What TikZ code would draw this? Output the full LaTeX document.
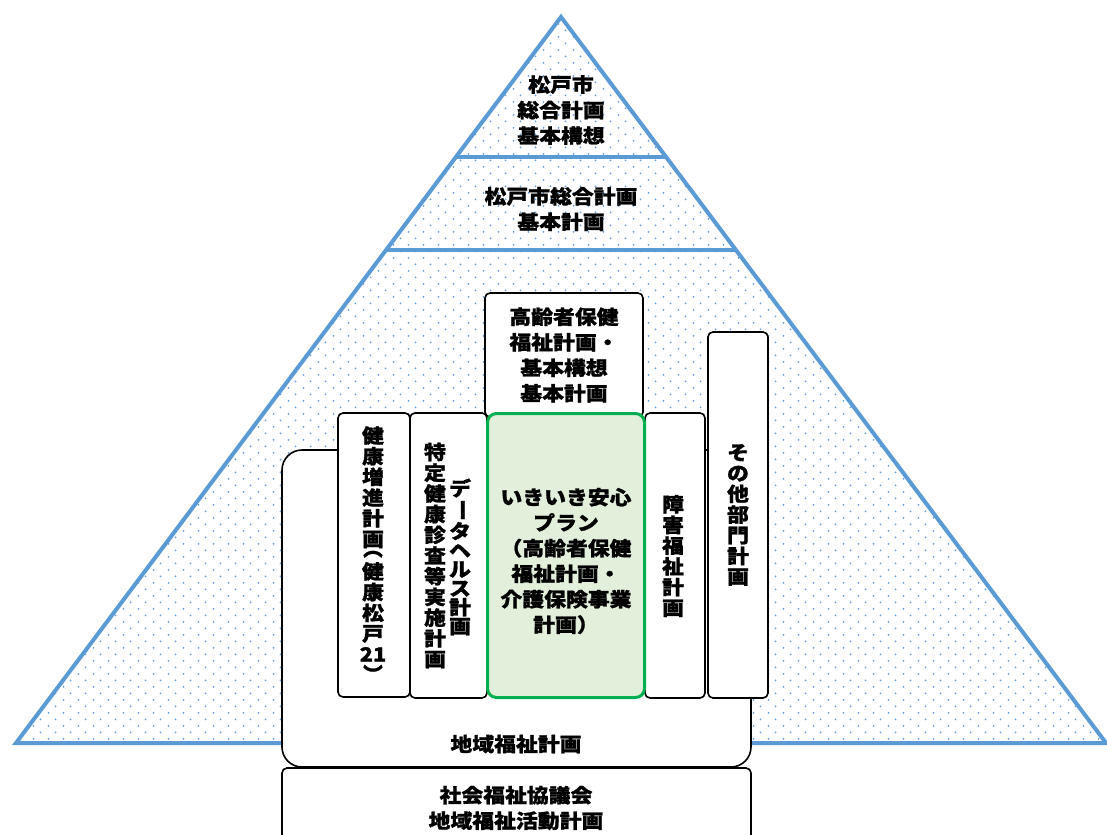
\documentclass[tikz,border=0pt]{standalone}
\usepackage{fontspec}
\newfontfamily\jpfont{Noto Sans CJK JP}[FakeStretch=1.12,BoldFeatures={FakeBold=1.2}]
\usepackage{graphicx}
\usepackage{tikz}
\usetikzlibrary{patterns.meta,calc}

\definecolor{lineblue}{RGB}{91,155,213}
\definecolor{dotblue}{RGB}{105,160,218}
\definecolor{plangreen}{RGB}{0,176,80}
\definecolor{planfill}{RGB}{226,239,218}

\tikzdeclarepattern{
  name=bluedots,
  type=uncolored,
  bounding box={(0bp,0bp) and (15bp,13.4bp)},
  tile size={(15bp,13.4bp)},
  code={
    \fill (3.75bp,3.35bp) circle (1.05bp);
    \fill (11.25bp,10.05bp) circle (1.05bp);
  }
}

\tikzset{
  plan/.style={draw,line width=1.6bp,fill=white,rounded corners=5bp,inner sep=0pt},
  htext/.style={align=center,font={\fontsize{19.5bp}{25.5bp}\jpfont\bfseries}},
  vtext/.style={align=center,inner sep=0pt,font={\fontsize{19.5bp}{20.7bp}\jpfont\bfseries}},
  vtight/.style={vtext,font={\fontsize{19.5bp}{19bp}\jpfont\bfseries}},
}

\begin{document}
\begin{tikzpicture}

\useasboundingbox (0bp,0bp) rectangle (1107bp,-835bp);
\clip (0bp,0bp) rectangle (1107bp,-835bp);

% pyramid
\coordinate (apex) at (561bp,-17bp);
\coordinate (left) at (16bp,-743bp);
\coordinate (right) at (1106bp,-743bp);
\fill [pattern=bluedots,pattern color=dotblue] (apex) -- (left) -- (right) -- cycle;
\draw [lineblue,line width=4bp] (apex) -- (left) -- (right) -- cycle;
\draw [lineblue,line width=4bp] ($(apex)!0.1928!(left)$) -- ($(apex)!0.1928!(right)$);
\draw [lineblue,line width=4bp] ($(apex)!0.3209!(left)$) -- ($(apex)!0.3209!(right)$);

\node (vision) at (561bp,-110bp)[htext] {松戸市\\総合計画\\基本構想};
\node (basic) at (561bp,-209bp)[htext] {松戸市総合計画\\基本計画};

% plans
\node (chiiki) at (516.5bp,-608.5bp)[plan,rounded corners=20bp,minimum width=469bp,minimum height=317bp] {};
\node (shakyo) at (516.5bp,-809bp)[plan,minimum width=469bp,minimum height=82bp] {};
\node (koreisha) at (564bp,-355bp)[plan,minimum width=158bp,minimum height=124bp] {};
\node (kenko) at (374bp,-555bp)[plan,minimum width=72bp,minimum height=284bp] {};
\node (tokutei) at (448.5bp,-555.5bp)[plan,minimum width=77bp,minimum height=285bp] {};
\node (shogai) at (675bp,-555.5bp)[plan,minimum width=60bp,minimum height=285bp] {};
\node (sonota) at (738bp,-515bp)[plan,minimum width=60bp,minimum height=366bp] {};
\node (ikiiki) at (566bp,-555.5bp)[plan,draw=plangreen,fill=planfill,line width=3bp,rounded corners=9bp,minimum width=157bp,minimum height=284bp] {};

\node (chiikiT) at (516bp,-744bp)[htext] {地域福祉計画};
\node (shakyoT) at (516bp,-808bp)[htext] {社会福祉協議会\\地域福祉活動計画};
\node (koreishaT) at (564bp,-355bp)[htext] {高齢者保健\\福祉計画・\\基本構想\\基本計画};
\node (ikiikiT) at (566bp,-561bp)[htext] {いきいき安心\\プラン\\（高齢者保健\\福祉計画・\\介護保険事業\\計画）};
\node (kenkoT) at (373bp,-556bp)[vtext] {健\\康\\増\\進\\計\\画\\[-12bp]\rotatebox[origin=c]{-90}{（}\\[3bp]健\\康\\松\\戸\\21\\[0bp]\rotatebox[origin=c]{-90}{）}};
\node (tokuteiT) at (435bp,-555.5bp)[vtext] {特\\定\\健\\康\\診\\査\\等\\実\\施\\計\\画};
\node (dataT) at (460bp,-557bp)[vtight] {デ\\\rotatebox[origin=c]{-90}{ー}\\タ\\ヘ\\ル\\ス\\計\\画};
\node (shogaiT) at (673bp,-556bp)[vtext] {障\\害\\福\\祉\\計\\画};
\node (sonotaT) at (738bp,-515bp)[vtext] {そ\\の\\他\\部\\門\\計\\画};

\end{tikzpicture}
\end{document}
